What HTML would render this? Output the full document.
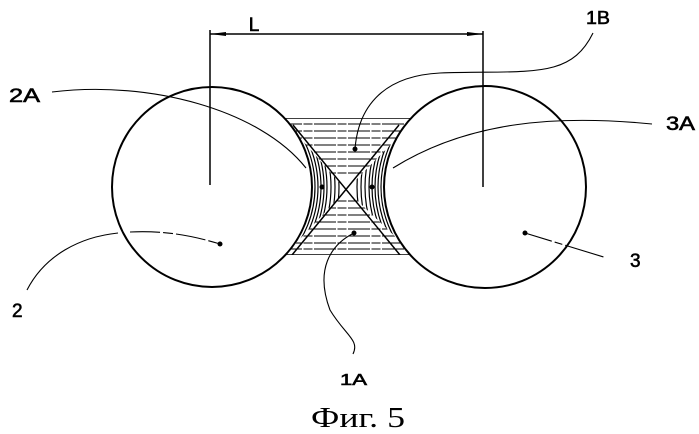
<!DOCTYPE html>
<html><head><meta charset="utf-8"><style>
html,body{margin:0;padding:0;background:#fff;}
svg{display:block;}
text{font-family:"Liberation Sans",sans-serif;fill:#000;}
.lb{stroke:#000;stroke-width:0.6;}
</style></head><body>
<svg width="699" height="434" viewBox="0 0 699 434" xmlns="http://www.w3.org/2000/svg">
<defs>
  <mask id="gap">
    <rect x="0" y="0" width="699" height="434" fill="#000"/>
    <rect x="284" y="118" width="128" height="137" fill="#fff"/>
    <circle cx="212" cy="187" r="100" fill="#000"/>
    <circle cx="485" cy="187" r="101" fill="#000"/>
  </mask>
  <clipPath id="tb"><polygon points="280,115 420,115 346,190 420,260 280,260 346,190"/></clipPath>
  <clipPath id="lt"><polygon points="280,115 346,190 280,260"/></clipPath>
  <clipPath id="rt"><polygon points="420,115 346,190 420,260"/></clipPath>
</defs>
<g fill="none" stroke="#000">
  <g mask="url(#gap)">
    <g clip-path="url(#tb)" stroke-width="1.1" stroke-dasharray="22 1.5 9 1.5">
      <line x1="280" y1="124" x2="420" y2="124"/>
      <line x1="280" y1="131" x2="420" y2="131"/>
      <line x1="280" y1="138" x2="420" y2="138"/>
      <line x1="280" y1="145" x2="420" y2="145"/>
      <line x1="280" y1="152" x2="420" y2="152"/>
      <line x1="280" y1="159" x2="420" y2="159"/>
      <line x1="280" y1="166" x2="420" y2="166"/>
      <line x1="280" y1="173" x2="420" y2="173"/>
      <line x1="280" y1="201" x2="420" y2="201"/>
      <line x1="280" y1="208" x2="420" y2="208"/>
      <line x1="280" y1="215" x2="420" y2="215"/>
      <line x1="280" y1="222" x2="420" y2="222"/>
      <line x1="280" y1="229" x2="420" y2="229"/>
      <line x1="280" y1="236" x2="420" y2="236"/>
      <line x1="280" y1="243" x2="420" y2="243"/>
      <line x1="280" y1="249" x2="420" y2="249"/>
    </g>
    <g clip-path="url(#lt)" stroke-width="1.2">
      <circle cx="212" cy="187" r="103"/><circle cx="212" cy="187" r="106"/>
      <circle cx="212" cy="187" r="109"/><circle cx="212" cy="187" r="112"/>
      <circle cx="212" cy="187" r="115"/><circle cx="212" cy="187" r="119"/>
      <circle cx="212" cy="187" r="123"/><circle cx="212" cy="187" r="127"/>
    </g>
    <g clip-path="url(#rt)" stroke-width="1.2">
      <circle cx="485" cy="187" r="104"/><circle cx="485" cy="187" r="107"/>
      <circle cx="485" cy="187" r="110"/><circle cx="485" cy="187" r="113"/>
      <circle cx="485" cy="187" r="116"/><circle cx="485" cy="187" r="120"/>
      <circle cx="485" cy="187" r="124"/><circle cx="485" cy="187" r="128"/>
    </g>
    <g stroke-width="1.5">
      <line x1="293" y1="125" x2="400" y2="255"/>
      <line x1="399" y1="125" x2="292" y2="255"/>
      <line x1="280" y1="118" x2="420" y2="118"/>
      <line x1="280" y1="255" x2="420" y2="255"/>
    </g>
  </g>
  <circle cx="212" cy="187" r="100" stroke-width="2"/>
  <circle cx="485" cy="187" r="101" stroke-width="2"/>
  <g stroke-width="1.5">
    <line x1="210" y1="30" x2="210" y2="185"/>
    <line x1="483" y1="31" x2="483" y2="187"/>
    <line x1="210" y1="34" x2="483" y2="34"/>
  </g>
  <polygon points="210,34 226,32 226,36" fill="#000" stroke="none"/>
  <polygon points="483,34 467,32 467,36" fill="#000" stroke="none"/>
  <g stroke-width="1.1">
    <path d="M52,92 C150,80 260,110 306,168"/>
    <path d="M593,33 C570,80 530,70 440,73 C380,76 358,110 355,149"/>
    <path d="M652,124 C560,115 470,120 393,168"/>
    <path d="M27,290 C45,255 80,237 118,233"/>
    <path d="M130,232 C170,230 200,238 220,244" stroke-dasharray="30 3 10 3"/>
    <path d="M525,233 L620,262" stroke-dasharray="28 3 8 3 40"/>
    <path d="M354,233 C330,245 315,270 330,310 C345,335 360,340 353,354"/>
  </g>
</g>
<g fill="#000">
  <circle cx="322" cy="187" r="2.5"/><circle cx="372" cy="187" r="2.5"/>
  <circle cx="355" cy="149" r="2.5"/><circle cx="354" cy="233" r="2.5"/>
  <circle cx="220" cy="244" r="2.5"/><circle cx="525" cy="233" r="2.5"/>
</g>
<text class="lb" x="254" y="31" font-size="19" text-anchor="middle">L</text>
<text class="lb" x="9" y="102" font-size="19" textLength="31" lengthAdjust="spacingAndGlyphs">2A</text>
<text class="lb" x="586" y="24" font-size="18" textLength="24" lengthAdjust="spacingAndGlyphs">1B</text>
<text class="lb" x="666" y="130" font-size="19" textLength="29" lengthAdjust="spacingAndGlyphs">3A</text>
<text class="lb" x="12" y="317" font-size="19">2</text>
<text class="lb" x="630" y="267" font-size="19">3</text>
<text class="lb" x="340" y="385" font-size="16" textLength="27" lengthAdjust="spacingAndGlyphs">1A</text>
<text x="311" y="427" font-size="29" textLength="94" lengthAdjust="spacingAndGlyphs" style="font-family:'Liberation Serif',serif">Фиг. 5</text>
</svg>
</body></html>
